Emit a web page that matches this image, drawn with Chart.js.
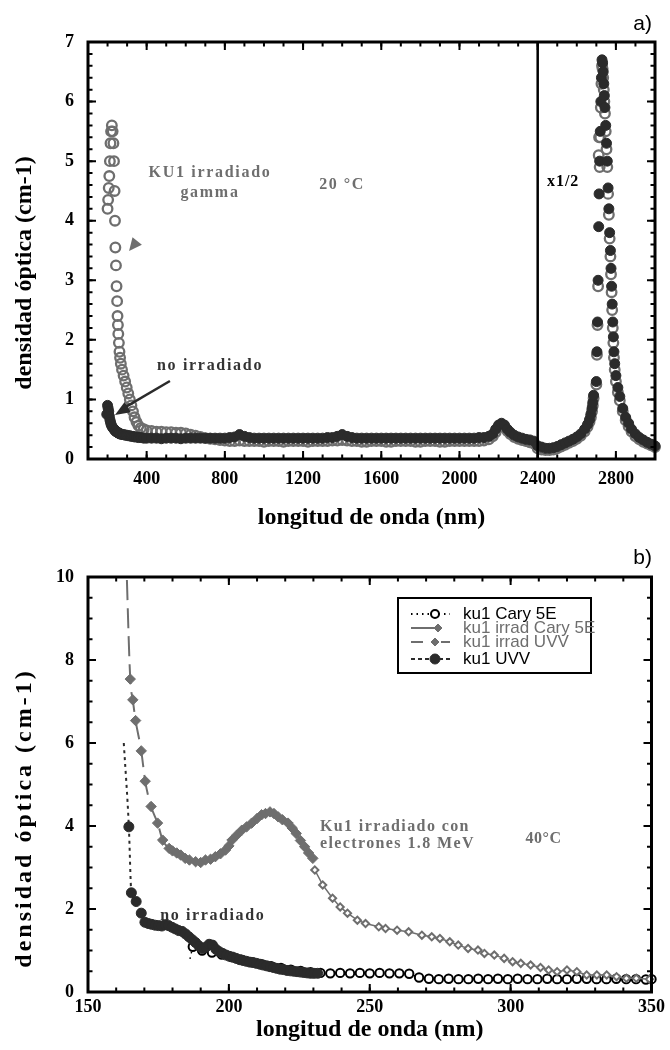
<!DOCTYPE html>
<html lang="es">
<head>
<meta charset="utf-8">
<title>densidad óptica KU1</title>
<script src="https://cdn.jsdelivr.net/npm/chart.js@4.4.1/dist/chart.umd.min.js"></script>
<style>
  html, body { margin: 0; padding: 0; background: #fff; }
  #panelA, #panelB { position: absolute; left: 0; }
  #panelA { top: 0; }
  #panelB { top: 545px; }
</style>
</head>
<body>
<canvas id="panelA" width="670" height="545"></canvas>
<canvas id="panelB" width="670" height="505"></canvas>
<script>
// ---------- panel a): KU1 gamma vs no irradiado ----------
const nmUV = [
  196, 200, 203, 206, 209, 212, 215, 218, 222, 226,
  230, 233, 236, 238, 240, 243, 246, 249, 251, 253,
  255, 258, 261, 264, 268, 274, 282, 290, 298, 306,
  314, 322, 330, 338, 348, 358, 370, 385, 400
];
const gammaUV = [
  null, 4.2, 4.35, 4.55, 4.75, 5.0, 5.3, 5.5, 5.6, 5.5,
  5.3, 5.0, 4.5, 4.0, 3.55, 3.25, 2.9, 2.65, 2.4, 2.25,
  2.1, 1.95, 1.8, 1.7, 1.6, 1.5, 1.4, 1.3, 1.2, 1.1,
  1.0, 0.9, 0.8, 0.7, 0.62, 0.56, 0.52, 0.5, 0.48
];
const noIrrUV = [
  0.75, 0.9, 0.85, 0.8, 0.72, 0.66, 0.62, 0.58, 0.55, 0.53,
  0.51, 0.5, 0.49, 0.48, 0.47, 0.46, 0.46, 0.45, 0.45, 0.44,
  0.44, 0.43, 0.43, 0.42, 0.42, 0.41, 0.41, 0.4, 0.4, 0.39,
  0.39, 0.38, 0.38, 0.37, 0.37, 0.36, 0.36, 0.35, 0.35
];
const nmVis = [
  425, 450, 475, 500, 525, 550, 575, 600, 625, 650,
  675, 700, 725, 750, 775, 800, 825, 850, 875, 900,
  925, 950, 975, 1000, 1025, 1050, 1075, 1100, 1125, 1150,
  1175, 1200, 1225, 1250, 1275, 1300, 1325, 1350, 1375, 1400,
  1425, 1450, 1475, 1500, 1525, 1550, 1575, 1600, 1625, 1650,
  1675, 1700, 1725, 1750, 1775, 1800, 1825, 1850, 1875, 1900,
  1925, 1950, 1975, 2000, 2025, 2050, 2075, 2100, 2125, 2150
];
const gammaVis = [
  0.47, 0.46, 0.46, 0.45, 0.45, 0.44, 0.44, 0.43, 0.41, 0.39,
  0.37, 0.35, 0.34, 0.33, 0.32, 0.31, 0.30, 0.30, 0.31, 0.30,
  0.30, 0.30, 0.30, 0.29, 0.30, 0.30, 0.30, 0.29, 0.30, 0.30,
  0.30, 0.30, 0.29, 0.30, 0.30, 0.30, 0.30, 0.31, 0.31, 0.32,
  0.31, 0.30, 0.30, 0.29, 0.29, 0.30, 0.30, 0.30, 0.29, 0.29,
  0.30, 0.30, 0.30, 0.30, 0.29, 0.29, 0.30, 0.30, 0.30, 0.29,
  0.29, 0.30, 0.30, 0.30, 0.30, 0.30, 0.30, 0.30, 0.31, 0.33
];
const noIrrVis = [
  0.35, 0.35, 0.34, 0.35, 0.35, 0.35, 0.34, 0.35, 0.35, 0.35,
  0.35, 0.35, 0.35, 0.35, 0.35, 0.35, 0.36, 0.37, 0.41, 0.38,
  0.36, 0.35, 0.35, 0.35, 0.35, 0.35, 0.35, 0.35, 0.35, 0.35,
  0.35, 0.35, 0.35, 0.35, 0.35, 0.35, 0.36, 0.36, 0.38, 0.41,
  0.38, 0.36, 0.35, 0.35, 0.35, 0.35, 0.35, 0.35, 0.35, 0.35,
  0.35, 0.35, 0.35, 0.35, 0.35, 0.35, 0.35, 0.35, 0.35, 0.35,
  0.35, 0.35, 0.35, 0.35, 0.35, 0.35, 0.35, 0.36, 0.36, 0.38
];
const nmIR = [
  2170, 2185, 2200, 2215, 2230, 2245, 2260, 2280, 2300, 2320,
  2340, 2360, 2380, 2400, 2420, 2440, 2460, 2480, 2500, 2520,
  2540, 2560, 2580, 2600, 2620, 2640, 2655, 2665, 2672, 2678,
  2682, 2686, 2700, 2703, 2706, 2709, 2712, 2714, 2717, 2720,
  2723, 2726, 2729, 2732, 2735, 2738, 2741, 2744, 2748, 2752,
  2756, 2760, 2764, 2768, 2772, 2775, 2778, 2781, 2784, 2787,
  2790, 2794, 2800, 2810, 2820, 2835, 2850, 2865, 2880, 2900,
  2920, 2940, 2960, 2980, 3000
];
const gammaIR = [
  0.38, 0.45, 0.53, 0.57, 0.54, 0.47, 0.42, 0.37, 0.34, 0.32,
  0.30, 0.28, 0.26, 0.18, 0.16, 0.15, 0.15, 0.16, 0.18, 0.21,
  0.24, 0.27, 0.30, 0.34, 0.39, 0.46, 0.54, 0.62, 0.70, 0.80,
  0.90, 1.02, 1.25, 1.75, 2.25, 2.90, 5.10, 5.40, 4.90, 5.40,
  5.90, 6.30, 6.60, 6.55, 6.40, 6.20, 6.00, 5.80, 5.50, 5.20,
  4.90, 4.45, 4.10, 3.70, 3.40, 3.10, 2.80, 2.50, 2.20, 1.95,
  1.70, 1.50, 1.30, 1.12, 0.98, 0.80, 0.65, 0.55, 0.46, 0.38,
  0.33, 0.29, 0.26, 0.23, 0.20
];
const noIrrIR = [
  0.42, 0.50, 0.57, 0.60, 0.57, 0.50, 0.45, 0.40, 0.37, 0.35,
  0.33, 0.32, 0.30, 0.22, 0.20, 0.18, 0.18, 0.19, 0.21, 0.24,
  0.27, 0.30, 0.33, 0.37, 0.42, 0.50, 0.58, 0.66, 0.75, 0.85,
  0.95, 1.07, 1.30, 1.80, 2.30, 3.00, 3.90, 4.45, 5.00, 5.50,
  6.00, 6.40, 6.70, 6.65, 6.50, 6.30, 6.10, 5.90, 5.60, 5.30,
  5.00, 4.55, 4.20, 3.80, 3.50, 3.20, 2.90, 2.60, 2.30, 2.05,
  1.80, 1.60, 1.40, 1.20, 1.05, 0.85, 0.70, 0.60, 0.50, 0.42,
  0.36, 0.32, 0.28, 0.25, 0.22
];
const ticksXA = [400, 800, 1200, 1600, 2000, 2400, 2800];

// ---------- panel b): KU1 electrones 1.8 MeV ----------
const etiquetasB = ['ku1 Cary 5E', 'ku1 irrad Cary 5E', 'ku1 irrad UVV', 'ku1 UVV'];
const nmCary = [
  186.2, 187.2, 190.5, 194.0, 197.5, 201.0, 204.5, 208.0, 211.5, 215.0,
  218.5, 222.0, 225.5, 229.0, 232.5, 236.0, 239.5, 243.0, 246.5, 250.0,
  253.5, 257.0, 260.5, 264.0, 267.5, 271.0, 274.5, 278.0, 281.5, 285.0,
  288.5, 292.0, 295.5, 299.0, 302.5, 306.0, 309.5, 313.0, 316.5, 320.0,
  323.5, 327.0, 330.5, 334.0, 337.5, 341.0, 344.5, 348.0, 350.0
];
const odCary = [
  0.80, 1.09, 1.00, 0.95, 0.90, 0.84, 0.78, 0.72, 0.67, 0.62,
  0.58, 0.54, 0.51, 0.48, 0.46, 0.45, 0.46, 0.45, 0.46, 0.45,
  0.46, 0.45, 0.45, 0.44, 0.35, 0.32, 0.31, 0.32, 0.31, 0.31,
  0.32, 0.31, 0.32, 0.31, 0.32, 0.31, 0.31, 0.32, 0.31, 0.31,
  0.32, 0.32, 0.31, 0.31, 0.32, 0.31, 0.31, 0.30, 0.31
];
const nmIrradCary = [
  230.5, 233.3, 236.8, 239.5, 242.1, 245.6, 248.5, 253.2, 255.6, 259.7,
  263.8, 268.5, 272.0, 274.9, 278.4, 281.4, 284.9, 288.4, 290.7, 294.2,
  297.7, 300.7, 303.6, 307.1, 310.6, 313.5, 316.5, 320.0, 323.5, 327.0,
  330.6, 334.1, 337.6, 341.1, 344.6, 349.3
];
const odIrradCary = [
  2.94, 2.58, 2.26, 2.05, 1.90, 1.73, 1.65, 1.57, 1.53, 1.49,
  1.45, 1.37, 1.33, 1.29, 1.21, 1.13, 1.05, 1.01, 0.93, 0.89,
  0.81, 0.73, 0.69, 0.65, 0.59, 0.53, 0.49, 0.53, 0.49, 0.41,
  0.41, 0.41, 0.37, 0.33, 0.33, 0.31
];
const nmIrradUVV = [
  163.5, 165.0, 165.9, 166.9, 168.9, 170.3, 172.4, 174.7, 176.5, 178.8,
  180.0, 181.5, 182.9, 184.5, 186.0, 188.2, 190.0, 191.7, 193.5, 195.2,
  197.0, 198.8, 200.0, 201.1, 202.8, 204.6, 206.3, 208.1, 210.0, 211.6,
  213.0, 214.6, 216.0, 217.5, 219.0, 221.0, 222.5, 223.9, 225.4, 226.9,
  228.3, 229.8
];
const odIrradUVV = [
  10.6, 7.54, 7.04, 6.54, 5.81, 5.08, 4.47, 4.07, 3.66, 3.46,
  3.40, 3.35, 3.30, 3.22, 3.18, 3.14, 3.12, 3.18, 3.20, 3.26,
  3.33, 3.42, 3.52, 3.66, 3.78, 3.90, 3.98, 4.07, 4.18, 4.27,
  4.30, 4.34, 4.30, 4.22, 4.15, 4.07, 3.95, 3.82, 3.65, 3.50,
  3.35, 3.22
];
const nmUVV = [
  162.7, 164.5, 165.4, 167.1, 168.9, 170.2, 171.4, 172.6, 173.8, 175.0,
  176.2, 177.4, 178.6, 179.8, 181.0, 182.2, 183.4, 184.6, 185.8, 187.0,
  188.2, 189.4, 190.6, 191.8, 193.0, 194.2, 195.4, 196.6, 197.8, 199.0,
  200.2, 201.4, 202.6, 203.8, 205.0, 206.2, 207.4, 208.6, 209.8, 211.0,
  212.2, 213.4, 214.6, 215.8, 217.0, 218.2, 219.4, 220.6, 221.8, 223.0,
  224.2, 225.4, 226.6, 227.8, 229.0, 230.2, 231.5
];
const odUVV = [
  6.00, 3.98, 2.39, 2.18, 1.90, 1.68, 1.65, 1.63, 1.61, 1.60,
  1.59, 1.62, 1.60, 1.56, 1.52, 1.48, 1.46, 1.40, 1.33, 1.26,
  1.19, 1.11, 1.05, 1.08, 1.15, 1.13, 1.03, 0.97, 0.93, 0.89,
  0.86, 0.84, 0.81, 0.78, 0.76, 0.74, 0.72, 0.71, 0.69, 0.67,
  0.65, 0.63, 0.61, 0.59, 0.57, 0.55, 0.54, 0.52, 0.51, 0.50,
  0.49, 0.48, 0.47, 0.46, 0.45, 0.45, 0.45
];

const NEGRO = '#000';
const OSCURO = '#2b2b2b';
const GRIS = '#6e6e6e';
const SERIF = '"Liberation Serif", "Times New Roman", serif';
const SANS = '"Liberation Sans", Arial, sans-serif';

function puntos(xs, ys) {
  return xs.map((x, i) => ({ x: x, y: ys[i] }));
}
function rango(desde, hasta, paso) {
  let r = [];
  for (let v = desde; v <= hasta + 1e-9; v += paso) r.push(Math.round(v * 1000) / 1000);
  return r;
}

// marco con marcas hacia dentro en los cuatro lados
const marco = {
  id: 'marco',
  afterDatasetsDraw(chart, args, o) {
    const { ctx, chartArea: a, scales: { x, y } } = chart;
    ctx.save();
    ctx.strokeStyle = NEGRO;
    ctx.lineWidth = 2;
    const marcasX = (vals, len) => vals.forEach(v => {
      const p = x.getPixelForValue(v);
      ctx.beginPath();
      ctx.moveTo(p, a.bottom); ctx.lineTo(p, a.bottom - len);
      ctx.moveTo(p, a.top); ctx.lineTo(p, a.top + len);
      ctx.stroke();
    });
    const marcasY = (vals, len) => vals.forEach(v => {
      const p = y.getPixelForValue(v);
      ctx.beginPath();
      ctx.moveTo(a.left, p); ctx.lineTo(a.left + len, p);
      ctx.moveTo(a.right, p); ctx.lineTo(a.right - len, p);
      ctx.stroke();
    });
    marcasX(o.xMenor, 4.5); marcasX(o.xMayor, 8);
    marcasY(o.yMenor, 4.5); marcasY(o.yMayor, 8);
    ctx.lineWidth = 3;
    ctx.strokeRect(a.left, a.top, a.right - a.left, a.bottom - a.top);
    ctx.restore();
  }
};

function texto(ctx, t, px, py, o) {
  ctx.save();
  ctx.font = o.font || ('bold 16px ' + SERIF);
  ctx.letterSpacing = (o.esp || 0) + 'px';
  ctx.fillStyle = o.color || NEGRO;
  ctx.textAlign = o.align || 'center';
  ctx.textBaseline = 'middle';
  ctx.fillText(t, px, py);
  ctx.restore();
}
function tituloY(ctx, t, cx, cy, esp) {
  ctx.save();
  ctx.translate(cx, cy);
  ctx.rotate(-Math.PI / 2);
  texto(ctx, t, 0, 0, { font: 'bold 24px ' + SERIF, esp: esp });
  ctx.restore();
}
function punta(ctx, x0, y0, x1, y1, largo, ancho, color) {
  const ang = Math.atan2(y1 - y0, x1 - x0);
  ctx.save();
  ctx.fillStyle = color;
  ctx.translate(x1, y1);
  ctx.rotate(ang);
  ctx.beginPath();
  ctx.moveTo(0, 0);
  ctx.lineTo(-largo, -ancho);
  ctx.lineTo(-largo, ancho);
  ctx.closePath();
  ctx.fill();
  ctx.restore();
}

// textos, flechas y línea x1/2 del panel a)
const notasA = {
  id: 'notasA',
  afterDraw(chart) {
    const { ctx, chartArea: a, scales: { x, y } } = chart;
    const X = v => x.getPixelForValue(v), Y = v => y.getPixelForValue(v);
    ctx.save();
    ctx.strokeStyle = NEGRO;
    ctx.lineWidth = 2.5;
    ctx.beginPath();
    ctx.moveTo(X(2400), a.top); ctx.lineTo(X(2400), a.bottom);
    ctx.stroke();
    ctx.strokeStyle = OSCURO;
    ctx.beginPath();
    ctx.moveTo(X(519), Y(1.31)); ctx.lineTo(X(265), Y(0.82));
    ctx.stroke();
    ctx.restore();
    punta(ctx, X(519), Y(1.31), X(238), Y(0.74), 15, 6, OSCURO);
    punta(ctx, X(366), Y(3.72), X(310), Y(3.49), 13, 6, GRIS);
    texto(ctx, 'KU1 irradiado', X(724), Y(4.8), { color: GRIS, esp: 1.7 });
    texto(ctx, 'gamma', X(724), Y(4.46), { color: GRIS, esp: 1.7 });
    texto(ctx, '20 °C', X(1399), Y(4.6), { color: GRIS, esp: 1.5 });
    texto(ctx, 'x1/2', X(2530), Y(4.65), { esp: 1 });
    texto(ctx, 'no irradiado', X(724), Y(1.57), { color: '#333', esp: 1.7 });
    tituloY(ctx, 'densidad óptica (cm-1)', 25, 273, 0);
    texto(ctx, 'a)', 652, 24, { font: '21px ' + SANS, align: 'right' });
  }
};

function marcador(ctx, estilo, px, py, r, relleno, borde, ancho) {
  ctx.save();
  ctx.setLineDash([]);
  ctx.beginPath();
  if (estilo === 'rectRot') {
    ctx.moveTo(px, py - r); ctx.lineTo(px + r, py); ctx.lineTo(px, py + r); ctx.lineTo(px - r, py);
    ctx.closePath();
  } else {
    ctx.arc(px, py, r, 0, Math.PI * 2);
  }
  ctx.fillStyle = relleno; ctx.fill();
  ctx.lineWidth = ancho; ctx.strokeStyle = borde; ctx.stroke();
  ctx.restore();
}

// leyenda enmarcada y textos del panel b)
const notasB = {
  id: 'notasB',
  afterDraw(chart) {
    const { ctx, chartArea: a, scales: { x, y } } = chart;
    const X = v => x.getPixelForValue(v), Y = v => y.getPixelForValue(v);
    texto(ctx, 'Ku1 irradiado con', X(232.3), Y(3.98), { color: GRIS, esp: 1.4, align: 'left' });
    texto(ctx, 'electrones 1.8 MeV', X(232.3), Y(3.58), { color: GRIS, esp: 1.4, align: 'left' });
    texto(ctx, '40°C', X(311.7), Y(3.68), { color: GRIS, esp: 0.5 });
    texto(ctx, 'no irradiado', X(194.3), Y(1.83), { color: '#333', esp: 1.6 });
    tituloY(ctx, 'densidad óptica (cm-1)', 25, 273, 3);
    texto(ctx, 'b)', 652, 13, { font: '21px ' + SANS, align: 'right' });

    const L = a.left + 310, T = a.top + 21, W = 193, H = 75;
    ctx.save();
    ctx.fillStyle = '#fff';
    ctx.fillRect(L, T, W, H);
    ctx.strokeStyle = NEGRO;
    ctx.lineWidth = 2;
    ctx.strokeRect(L, T, W, H);
    const filas = [16, 30, 44, 61];
    const trazos = [[1.5, 4], [], [12, 18], [4, 3]];
    chart.data.datasets.forEach((ds, i) => {
      const fy = T + filas[i];
      ctx.save();
      ctx.strokeStyle = ds.borderColor;
      ctx.lineWidth = 2;
      ctx.setLineDash(trazos[i]);
      ctx.beginPath();
      ctx.moveTo(L + 13, fy); ctx.lineTo(L + (i === 1 ? 42 : 52), fy);
      ctx.stroke();
      ctx.restore();
      marcador(ctx, ds.pointStyle, L + (i === 1 ? 40 : 37), fy, i === 3 ? 5 : 4,
        i === 0 ? '#fff' : ds.pointBorderColor, ds.pointBorderColor, i === 0 ? 2 : 1);
      texto(ctx, ds.label, L + 65, fy, { font: '17px ' + SANS, align: 'left', color: ds.pointBorderColor === GRIS ? GRIS : NEGRO });
    });
    ctx.restore();
  }
};

function ejes(o) {
  return {
    x: {
      type: 'linear', min: o.xmin, max: o.xmax,
      grid: { display: false, drawTicks: false },
      border: { display: false },
      ticks: { stepSize: o.xpaso, color: NEGRO, padding: o.padX, maxRotation: 0, autoSkip: false,
        format: { useGrouping: false },
        font: { family: SERIF, size: 18, weight: 'bold' } },
      title: { display: true, text: 'longitud de onda (nm)', color: NEGRO,
        font: { family: SERIF, size: 24, weight: 'bold' }, padding: { top: 0, bottom: o.padTitulo } },
      afterBuildTicks: o.ticksX ? s => { s.ticks = o.ticksX.map(v => ({ value: v })); } : undefined,
      afterFit: s => { s.height = o.altoX; }
    },
    y: {
      type: 'linear', min: 0, max: o.ymax,
      grid: { display: false, drawTicks: false },
      border: { display: false },
      ticks: { stepSize: o.ypaso, color: NEGRO, padding: 14,
        font: { family: SERIF, size: 18, weight: 'bold' } },
      afterFit: s => { s.width = 88; }
    }
  };
}

new Chart(document.getElementById('panelA'), {
  type: 'scatter',
  data: {
    datasets: [
      { label: 'KU1 irradiado gamma', data: puntos(nmUV.concat(nmVis, nmIR), gammaUV.concat(gammaVis, gammaIR)),
        order: 2, clip: false, pointRadius: 4.8, pointBorderWidth: 2.3,
        pointBorderColor: GRIS, pointBackgroundColor: 'rgba(0,0,0,0)' },
      { label: 'no irradiado', data: puntos(nmUV.concat(nmVis, nmIR), noIrrUV.concat(noIrrVis, noIrrIR)),
        order: 1, clip: false, pointRadius: 5, pointBorderWidth: 1,
        pointBorderColor: OSCURO, pointBackgroundColor: OSCURO }
    ]
  },
  options: {
    responsive: false, animation: false, events: [],
    layout: { padding: { left: 0, right: 15, top: 42, bottom: 0 } },
    scales: ejes({ xmin: 100, xmax: 3000, xpaso: 400, ticksX: ticksXA, ymax: 7, ypaso: 1,
      padX: 10, altoX: 86, padTitulo: 13 }),
    plugins: {
      legend: { display: false }, tooltip: { enabled: false },
      marco: { xMenor: rango(100, 3000, 100), xMayor: ticksXA, yMenor: rango(0, 7, 0.2), yMayor: rango(0, 7, 1) }
    }
  },
  plugins: [marco, notasA]
});

new Chart(document.getElementById('panelB'), {
  type: 'scatter',
  data: {
    datasets: [
      { label: etiquetasB[0], data: puntos(nmCary, odCary), order: 4, clip: false, showLine: true,
        borderColor: NEGRO, borderWidth: 1.5, borderDash: [1.5, 4], pointStyle: 'circle',
        pointRadius: c => c.dataIndex === 0 ? 0 : 4.2, pointBorderWidth: 2,
        pointBorderColor: NEGRO, pointBackgroundColor: '#fff' },
      { label: etiquetasB[1], data: puntos(nmIrradCary, odIrradCary), order: 3, clip: false, showLine: true,
        borderColor: GRIS, borderWidth: 1.5, pointStyle: 'rectRot', pointRadius: 3.6, pointBorderWidth: 2,
        pointBorderColor: GRIS, pointBackgroundColor: '#fff' },
      { label: etiquetasB[2], data: puntos(nmIrradUVV, odIrradUVV), order: 2, clip: 0, showLine: true,
        cubicInterpolationMode: 'monotone',
        borderColor: GRIS, borderWidth: 2, borderDash: [20, 8], pointStyle: 'rectRot',
        pointRadius: c => c.dataIndex === 0 ? 0 : 5.2, pointBorderWidth: 1,
        pointBorderColor: GRIS, pointBackgroundColor: GRIS },
      { label: etiquetasB[3], data: puntos(nmUVV, odUVV), order: 1, clip: false, showLine: true,
        cubicInterpolationMode: 'monotone',
        borderColor: OSCURO, borderWidth: 2, borderDash: [3, 4], pointStyle: 'circle',
        pointRadius: c => c.dataIndex === 0 ? 0 : 5, pointBorderWidth: 1,
        pointBorderColor: OSCURO, pointBackgroundColor: OSCURO }
    ]
  },
  options: {
    responsive: false, animation: false, events: [],
    layout: { padding: { left: 0, right: 13, top: 32, bottom: 0 } },
    scales: ejes({ xmin: 150, xmax: 350, xpaso: 50, ymax: 10, ypaso: 2,
      padX: 5, altoX: 58, padTitulo: 6 }),
    plugins: {
      legend: { display: false }, tooltip: { enabled: false },
      marco: { xMenor: rango(150, 350, 10), xMayor: rango(150, 350, 50), yMenor: rango(0, 10, 0.5), yMayor: rango(0, 10, 2) }
    }
  },
  plugins: [marco, notasB]
});
</script>
</body>
</html>
